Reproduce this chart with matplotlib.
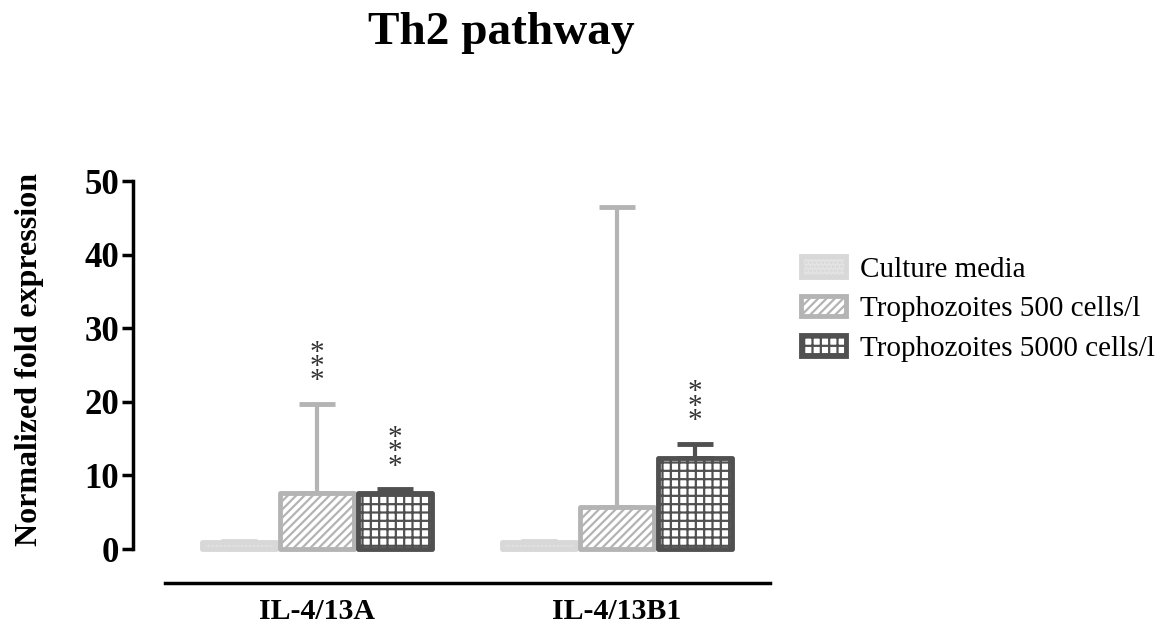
import numpy as np
import matplotlib
matplotlib.use('Agg')
import matplotlib.pyplot as plt

plt.rcParams['font.family'] = ['Liberation Serif', 'DejaVu Serif']
plt.rcParams['hatch.linewidth'] = 1.6

# data
categories = ['IL-4/13A', 'IL-4/13B1']
series = ['Culture media', 'Trophozoites 500 cells/l', 'Trophozoites 5000 cells/l']
culture = [1.0, 1.0]
culture_err = [0.15, 0.15]
t500 = [7.6, 5.7]
t500_err = [12.1, 40.7]
t5000 = [7.6, 12.3]
t5000_err = [0.5, 2.0]
t500_sig = ['***', '']
t5000_sig = ['***', '***']

values = [culture, t500, t5000]
errors = [culture_err, t500_err, t5000_err]
signif = [['', ''], t500_sig, t5000_sig]

faces = ['#e4e4e4', 'white', 'white']
edges = ['#d8d8d8', '#b4b4b4', '#505050']
hatches = ['....', '////', '++']

fig = plt.figure(figsize=(11.71, 6.31), dpi=100)
ax = fig.add_axes([133 / 1171, 1 - 583 / 631, (770 - 133) / 1171, (583 - 181) / 631])

x = np.arange(len(categories))
step = 0.26
width = 0.245
for i in range(3):
    pos = x + (i - 1) * step
    bars = ax.bar(pos, values[i], width, color=faces[i], edgecolor=edges[i],
                  hatch=hatches[i], linewidth=3.5, label=series[i], zorder=2)
    for b in bars:
        b.set_joinstyle('round')
    ax.errorbar(pos, values[i], yerr=[np.zeros(len(x)), errors[i]], fmt='none',
                ecolor=edges[i], elinewidth=3, capsize=13, capthick=3.5, zorder=1)
    for j in range(len(x)):
        if signif[i][j]:
            ax.text(pos[j], values[i][j] + errors[i][j] + 1.3, '*\n*\n*',
                    ha='center', va='bottom', fontsize=21, linespacing=0.42,
                    color='#333333')

ax.set_ylim(-(583 - 549) / 7.36, 50)
ax.set_xlim((133 - 317) / 300, (770 - 317) / 300)
ax.set_yticks([0, 10, 20, 30, 40, 50])
ax.set_xticks(x)
ax.set_xticklabels(categories, fontsize=21.5, fontweight='bold')
for lab in ax.get_yticklabels():
    lab.set_fontsize(25)
    lab.set_fontweight('bold')
ax.tick_params(axis='y', length=8, width=2.5, pad=2)
ax.tick_params(axis='x', length=0, pad=11)
ax.spines['top'].set_visible(False)
ax.spines['right'].set_visible(False)
ax.spines['left'].set_bounds(0, 50)
ax.spines['left'].set_linewidth(2.5)
ax.spines['bottom'].set_linewidth(2.5)
ax.spines['bottom'].set_bounds((165 - 317) / 300, (770 - 317) / 300)
ax.set_ylabel('Normalized fold expression', fontsize=23, fontweight='bold')
ax.yaxis.set_label_coords(-0.14, 0.555)

fig.text(0.428, 0.948, 'Th2 pathway', ha='center', va='center', fontsize=34,
         fontweight='bold')

fig.legend(loc='upper left', bbox_to_anchor=(775 / 1171, 1 - 230 / 631),
           frameon=False, fontsize=21, handlelength=1.55, handleheight=0.7,
           labelspacing=0.45, handletextpad=0.45)

plt.savefig('out.png', dpi=100)
